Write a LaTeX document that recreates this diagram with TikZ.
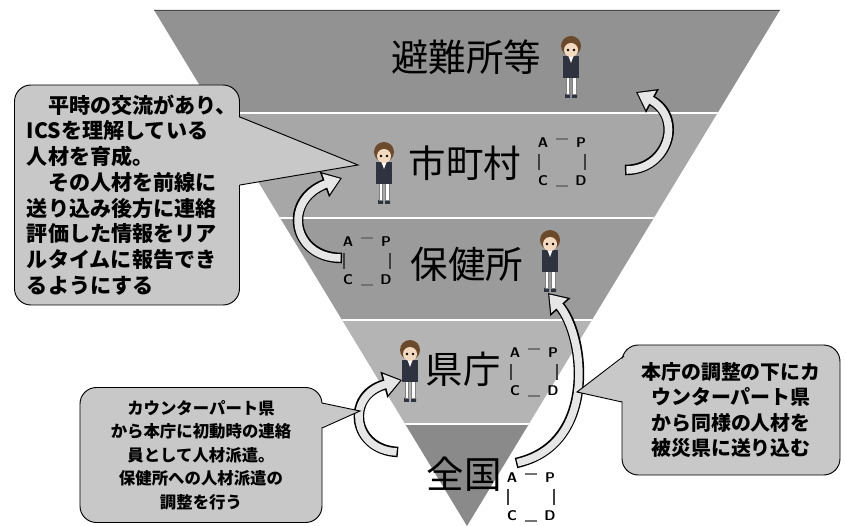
\documentclass[tikz,border=0pt]{standalone}
\usepackage{fontspec}
\setmainfont{Noto Sans CJK JP}
\usetikzlibrary{positioning,calc,arrows.meta}

\definecolor{bandA}{HTML}{929292}
\definecolor{bandB}{HTML}{A7A7A7}
\definecolor{bandC}{HTML}{9B9B9B}
\definecolor{bandD}{HTML}{B4B4B4}
\definecolor{bandE}{HTML}{8A8A8A}
\definecolor{notefill}{HTML}{C8C8C8}
\definecolor{arrowfill}{HTML}{E6E6E6}
\definecolor{kidhair}{HTML}{6B4A2B}
\definecolor{kidskin}{HTML}{F3D9C0}
\definecolor{kidsuit}{HTML}{2F3340}

\tikzset{
  level/.style={font=\fontsize{32}{32}\selectfont, inner sep=0pt},
  note/.style={draw=black, fill=notefill, line width=0.8pt, rounded corners=14pt, font=\bfseries},
  cyc/.style={font=\sffamily\bfseries\fontsize{12}{12}\selectfont, inner sep=0pt, on grid},
  bend arrow/.style={draw=black, line width=9pt, -{Triangle[length=16pt,width=22pt]},
    postaction={draw=arrowfill, line width=6.5pt, shorten >=1.6pt, shorten <=1.2pt,
      -{Triangle[length=13pt,width=17.5pt]}}}
}

\newcommand{\kid}[2]{%
  \begin{scope}[shift={(#1,#2)}]
    \fill[kidsuit] (-6,58) rectangle (-1,62) (1,58) rectangle (6,62);
    \filldraw[fill=white, draw=gray] (-5,40) rectangle (-1.5,58) (1.5,40) rectangle (5,58);
    \fill[kidsuit] (-8,20) rectangle (8,42);
    \fill[white] (-2.5,20) -- (2.5,20) -- (0,27) -- cycle;
    \fill[kidhair] (0,10) circle (10);
    \fill[kidskin] (0,14) circle (7);
    \fill[kidhair] (-8,10) .. controls (-4,4) and (4,4) .. (8,10) -- (8,4) -- (-8,4) -- cycle;
    \fill[black] (-3,14) circle (1.4) (3,14) circle (1.4);
  \end{scope}}

\newcommand{\pdca}[3]{%
  \node[cyc] (#1A) at (#2,#3) {A};
  \node[cyc, right=11.4mm of #1A] (#1P) {P};
  \node[cyc, below=11.4mm of #1P] (#1D) {D};
  \node[cyc, below=11.4mm of #1A] (#1C) {C};
  \draw[black!55, line width=1.8pt] ([yshift=1.2mm]$(#1A)!.35!(#1P)$) -- ([yshift=1.2mm]$(#1A)!.65!(#1P)$);
  \draw[black!55, line width=1.8pt] ([yshift=-1.5mm]$(#1C)!.35!(#1D)$) -- ([yshift=-1.5mm]$(#1C)!.65!(#1D)$);
  \draw[black!75, line width=0.9pt] ([xshift=-1.2mm]$(#1A)!.3!(#1C)$) -- ([xshift=-1.2mm]$(#1A)!.7!(#1C)$);
  \draw[black!75, line width=0.9pt] ([xshift=1.2mm]$(#1P)!.3!(#1D)$) -- ([xshift=1.2mm]$(#1P)!.7!(#1D)$);
}

\begin{document}
\begin{tikzpicture}[x=0.3mm, y=-0.3mm]
  \useasboundingbox (0,0) rectangle (846,526);

  \begin{scope}
    \clip (154,10) -- (780,10) -- (467,526) -- cycle;
    \fill[bandA] (0,10) rectangle (846,113);
    \fill[bandB] (0,113) rectangle (846,218);
    \fill[bandC] (0,218) rectangle (846,320);
    \fill[bandD] (0,320) rectangle (846,424);
    \fill[bandE] (0,424) rectangle (846,526);
    \draw[white, line width=1.5pt] (0,113) -- (846,113) (0,218) -- (846,218)
      (0,320) -- (846,320) (0,424) -- (846,424);
    \draw[black!70, line width=1pt] (0,10) -- (846,10);
  \end{scope}

  \node[level] (hinan) at (466,57) {避難所等};
  \node[level] (shicho) at (465,163) {市町村};
  \node[level] (hoken) at (467,264) {保健所};
  \node[level] (kencho) at (463,369) {県庁};
  \node[level] (zenkoku) at (464,474) {全国};

  \kid{571}{36}
  \kid{384}{142}
  \kid{550}{230}
  \kid{410}{340}

  \pdca{shicho}{543}{143}
  \pdca{hoken}{348}{242}
  \pdca{kencho}{515}{353}
  \pdca{zenkoku}{512}{478}

  \coordinate (a1s) at (625,170);
  \coordinate (a1e) at (636,92);
  \coordinate (a2s) at (342,258);
  \coordinate (a2e) at (342,178);
  \coordinate (a3s) at (516,463);
  \coordinate (a3e) at (548,293);
  \coordinate (a4s) at (398,452);
  \coordinate (a4e) at (402,380);
  \draw[bend arrow] (a1s) .. controls (668,170) and (684,118) .. (a1e);
  \draw[bend arrow] (a2s) .. controls (292,258) and (282,200) .. (a2e);
  \draw[bend arrow] (a3s) .. controls (598,445) and (585,335) .. (a3e);
  \draw[bend arrow] (a4s) .. controls (352,450) and (345,395) .. (a4e);

  \node[note, minimum width=67.5mm, minimum height=66mm, text width=60mm, align=left,
    font=\bfseries\fontsize{18}{22}\selectfont] (noteL) at (127,195)
    {　平時の交流があり、\\ICSを理解している\\人材を育成。\\　その人材を前線に\\送り込み後方に連絡\\評価した情報をリア\\ルタイムに報告でき\\るようにする};
  \fill[notefill] (238,117) -- (358,165) -- (238,185) -- cycle;
  \draw[line width=0.8pt] (240,117) -- (358,165) -- (240,185);

  \node[note, minimum width=72.6mm, minimum height=40.5mm, align=center,
    font=\bfseries\fontsize{14}{20}\selectfont] (noteB) at (201,455)
    {カウンターパート県\\から本庁に初動時の連絡\\員として人材派遣。\\保健所への人材派遣の\\調整を行う};
  \fill[notefill] (320,403) -- (360,411) -- (320,428) -- cycle;
  \draw[line width=0.8pt] (322,403) -- (360,411) -- (322,428);

  \node[note, minimum width=65.4mm, minimum height=39mm, align=center,
    font=\bfseries\fontsize{17}{21.5}\selectfont] (noteR) at (731,410)
    {本庁の調整の下にカ\\ウンターパート県\\から同様の人材を\\被災県に送り込む};
  \fill[notefill] (626,356) -- (577,392) -- (626,402) -- cycle;
  \draw[line width=0.8pt] (624,356) -- (577,392) -- (622,402);
\end{tikzpicture}
\end{document}
